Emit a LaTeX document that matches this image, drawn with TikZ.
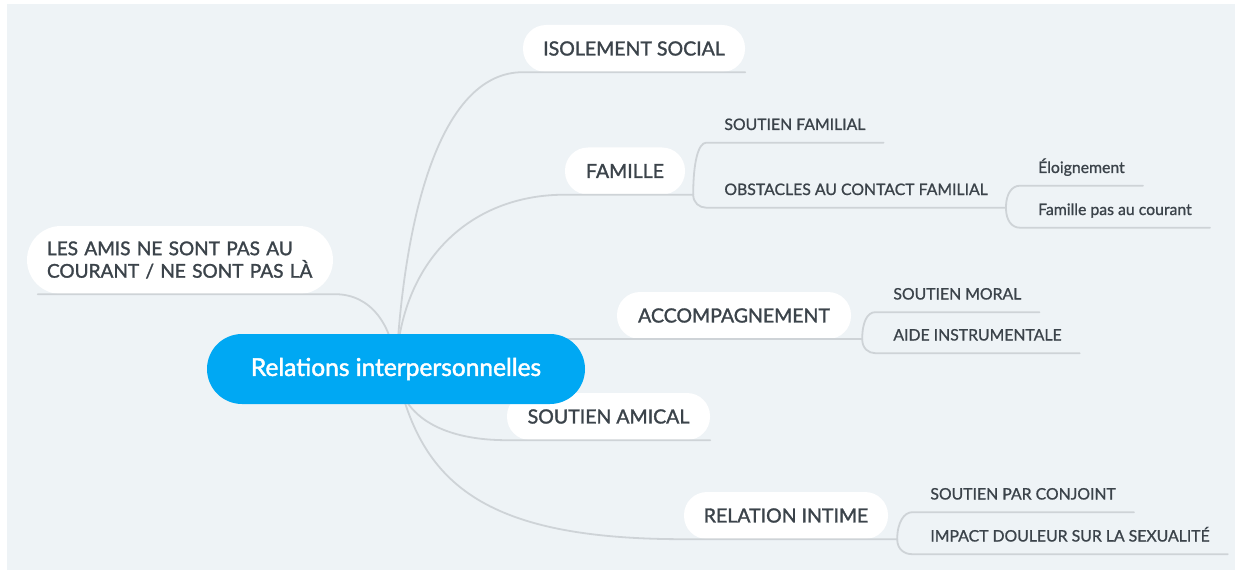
\documentclass[tikz,border=0pt]{standalone}
\usepackage{fontspec}
\setmainfont{Lato}
\newfontfamily\medfont{Lato}[FakeBold=1.5]
\newfontfamily\subfont{Lato}[FakeBold=1]
\newfontfamily\cenfont{Lato}[FakeBold=1.8]
\usetikzlibrary{calc}
\pgfdeclarelayer{lines}
\pgfdeclarelayer{front}
\pgfsetlayers{main,lines,front}
\definecolor{bgc}{RGB}{238,243,246}
\definecolor{linec}{RGB}{206,211,215}
\definecolor{txtc}{RGB}{59,67,74}
\definecolor{bluec}{RGB}{0,168,243}
\begin{document}
\begin{tikzpicture}[x=1pt,y=-1pt,
  topic/.style={rectangle, rounded corners=23pt, fill=white, text=txtc,
    font=\medfont\fontsize{19.5}{23}\selectfont, minimum height=47pt, inner sep=0pt},
  sub/.style={anchor=south west, inner xsep=18pt, inner ysep=12.5pt, text depth=0pt,
    text=txtc, font=\subfont\fontsize{15.8}{18}\selectfont},
  conn/.style={draw=linec, line width=1.8pt, line cap=round},
]
\fill[white] (0,0) rectangle (1240,575);
\fill[bgc] (7,4) rectangle (1235,570);
\useasboundingbox (0,0) rectangle (1240,575);

% first-level topics
\node[topic, minimum width=222pt] (iso) at (634,48.5) {ISOLEMENT SOCIAL};
\node[topic, minimum width=120pt] (fam) at (625,171) {FAMILLE};
\node[topic, rounded corners=34pt, minimum height=68pt, text width=266pt, inner xsep=20pt,
  align=left, font=\medfont\fontsize{19}{22.5}\selectfont] (amis) at (180,260)
  {LES AMIS NE SONT PAS AU\\COURANT / NE SONT PAS LÀ};
\node[topic, minimum width=234pt] (acc) at (734,315.5) {ACCOMPAGNEMENT};
\node[topic, minimum width=203pt] (sam) at (608.5,416.5) {SOUTIEN AMICAL};
\node[topic, minimum width=204pt] (rel) at (786,515.5) {RELATION INTIME};

% central topic
\begin{pgfonlayer}{front}
\node[rectangle, rounded corners=35pt, fill=bluec, text=white, minimum width=378pt,
  minimum height=70pt, inner sep=0pt, font=\cenfont\fontsize{24.5}{28}\selectfont] (c) at (396,369)
  {Relations interpersonnelles};
\end{pgfonlayer}

% branch points and sub topics
\coordinate (famb) at ($(fam.south east)+(8,0)$);
\node[sub] (sf) at ($(famb)+(13,-52)$) {SOUTIEN FAMILIAL};
\node[sub] (ob) at ($(famb)+(13,13)$) {OBSTACLES AU CONTACT FAMILIAL};
\coordinate (obb) at ($(ob.south east)+(0,0)$);
\node[sub] (el) at ($(obb)+(14,-22)$) {Éloignement};
\node[sub] (fp) at ($(obb)+(14,20)$) {Famille pas au courant};
\coordinate (accb) at ($(acc.south east)+(11,0)$);
\node[sub] (sm) at ($(accb)+(13,-27)$) {SOUTIEN MORAL};
\node[sub] (ai) at ($(accb)+(13,14)$) {AIDE INSTRUMENTALE};
\coordinate (relb) at ($(rel.south east)+(9,0)$);
\node[sub] (sc) at ($(relb)+(15,-27)$) {SOUTIEN PAR CONJOINT};
\node[sub] (im) at ($(relb)+(15,15)$) {IMPACT DOULEUR SUR LA SEXUALITÉ};

\begin{pgfonlayer}{lines}
\draw[conn] (c.center) .. controls +(9,-168) and +(-78,0) .. (iso.south west) -- (iso.south east);
\draw[conn] (c.center) .. controls +(4,-108) and +(-95,0) .. (fam.south west) -- (famb);
\draw[conn] (c.center) .. controls +(-3,-45) and +(35,0) .. ($(amis.south east)+(2,0)$) -- ($(amis.south west)+(11,0)$);
\draw[conn] (c.center) -- (c.center |- acc.south) -- (accb);
\draw[conn] (c.center) .. controls +(4,52) and +(-57,0) .. (sam.south west) -- (sam.south east);
\draw[conn] (c.center) .. controls +(24,112) and +(-204,0) .. (rel.south west) -- (relb);

\draw[conn] (famb) .. controls +(0,-32) and +(-8,0) .. (sf.south west) -- (sf.south east);
\draw[conn] (famb) .. controls +(0,8) and +(-7,0) .. (ob.south west) -- (obb);
\draw[conn] (obb) .. controls +(0,-14) and +(-8,0) .. (el.south west) -- (el.south east);
\draw[conn] (obb) .. controls +(0,13) and +(-8,0) .. (fp.south west) -- (fp.south east);
\draw[conn] (accb) .. controls +(0,-17) and +(-8,0) .. (sm.south west) -- (sm.south east);
\draw[conn] (accb) .. controls +(0,9) and +(-7,0) .. (ai.south west) -- (ai.south east);
\draw[conn] (relb) .. controls +(0,-17) and +(-8,0) .. (sc.south west) -- (sc.south east);
\draw[conn] (relb) .. controls +(0,10) and +(-8,0) .. (im.south west) -- (im.south east);
\end{pgfonlayer}
\end{tikzpicture}
\end{document}
